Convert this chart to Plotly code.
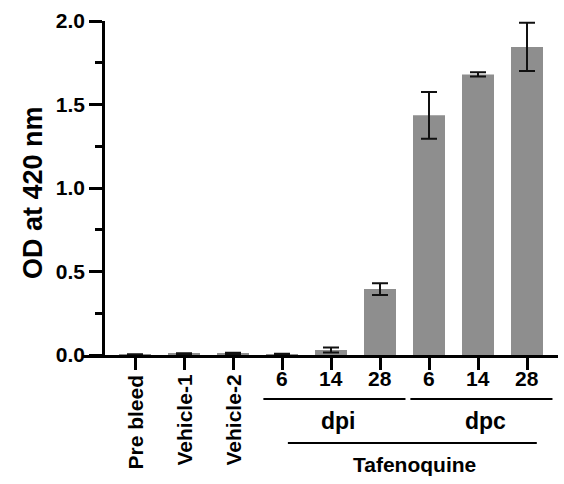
import plotly.graph_objects as go

categories = ["Pre bleed", "Vehicle-1", "Vehicle-2", "dpi 6", "dpi 14", "dpi 28", "dpc 6", "dpc 14", "dpc 28"]
tick_labels = ["Pre bleed", "Vehicle-1", "Vehicle-2", "6", "14", "28", "6", "14", "28"]
rotated = [True, True, True, False, False, False, False, False, False]
od_values = [0.003, 0.008, 0.010, 0.006, 0.030, 0.395, 1.435, 1.680, 1.845]
od_errors = [0.001, 0.003, 0.004, 0.002, 0.015, 0.035, 0.140, 0.013, 0.145]
groups = [("dpi", 3, 5), ("dpc", 6, 8)]
super_group = ("Tafenoquine", 3, 8)

W, H = 564, 484
L, R, T, B = 83, 6, 21, 129
pw = W - L - R
ph = H - T - B

def px_x(p):
    return (p - L) / pw

def px_y(p):
    return (H - B - p) / ph

FONT = "Liberation Sans, Arial, sans-serif"
idx = list(range(len(categories)))

fig = go.Figure()
fig.add_trace(go.Bar(
    x=idx, y=od_values,
    marker=dict(color="#8e8e8e", line=dict(width=0)),
    error_y=dict(type="data", array=od_errors, visible=True, color="#111111", thickness=2, width=8),
    showlegend=False,
))

annotations = []
for i, lab in enumerate(tick_labels):
    if rotated[i]:
        annotations.append(dict(x=i, y=px_y(373), xref="x", yref="paper", text=f"<b>{lab}</b>",
                                textangle=-90, showarrow=False, xanchor="center", yanchor="top",
                                font=dict(family=FONT, size=21, color="black")))
    else:
        annotations.append(dict(x=i, y=px_y(379), xref="x", yref="paper", text=f"<b>{lab}</b>",
                                showarrow=False, xanchor="center", yanchor="middle",
                                font=dict(family=FONT, size=21, color="black")))

shapes = []
for name, a, b in groups:
    shapes.append(dict(type="line", xref="x", yref="paper", x0=a - 0.38, x1=b + 0.52,
                       y0=px_y(399), y1=px_y(399), line=dict(color="black", width=2)))
    annotations.append(dict(x=(a + b) / 2 + 0.15, y=px_y(421), xref="x", yref="paper", text=f"<b>{name}</b>",
                            showarrow=False, xanchor="center", yanchor="middle",
                            font=dict(family=FONT, size=23, color="black")))
name, a, b = super_group
shapes.append(dict(type="line", xref="x", yref="paper", x0=a + 0.12, x1=b + 0.2,
                   y0=px_y(443), y1=px_y(443), line=dict(color="black", width=2)))
annotations.append(dict(x=(a + b) / 2 + 0.2, y=px_y(464), xref="x", yref="paper", text=f"<b>{name}</b>",
                        showarrow=False, xanchor="center", yanchor="middle",
                        font=dict(family=FONT, size=21, color="black")))

annotations.append(dict(x=px_x(33), y=px_y(193), xref="paper", yref="paper", text="<b>OD at 420 nm</b>",
                        textangle=-90, showarrow=False, xanchor="center", yanchor="middle",
                        font=dict(family=FONT, size=27, color="black")))

x_left = (L - 135) / 49
x_right = (W - R - 135) / 49

fig.update_layout(
    width=W, height=H,
    margin=dict(l=L, r=R, t=T, b=B, pad=0),
    paper_bgcolor="white", plot_bgcolor="white",
    bargap=0.347,
    annotations=annotations,
    shapes=shapes,
    font=dict(family=FONT, color="black"),
    xaxis=dict(range=[x_left, x_right], tickmode="array", tickvals=idx, showticklabels=False,
               ticks="outside", ticklen=12, tickwidth=2.5, tickcolor="black",
               showline=True, linecolor="black", linewidth=2.5, showgrid=False, zeroline=False,
               fixedrange=True),
    yaxis=dict(range=[0, 2.0], tickmode="array", tickvals=[0, 0.5, 1.0, 1.5, 2.0],
               ticktext=["<b>0.0</b>", "<b>0.5</b>", "<b>1.0</b>", "<b>1.5</b>", "<b>2.0</b>"],
               ticks="outside", ticklen=13, tickwidth=2.5, tickcolor="black",
               minor=dict(tickvals=[0.25, 0.75, 1.25, 1.75], ticks="outside", ticklen=7, tickwidth=2.5, tickcolor="black"),
               tickfont=dict(family=FONT, size=21, color="black"),
               showline=True, linecolor="black", linewidth=2.5, showgrid=False, zeroline=False,
               anchor="free", position=px_x(103), fixedrange=True),
)

fig.write_html("out.html")
